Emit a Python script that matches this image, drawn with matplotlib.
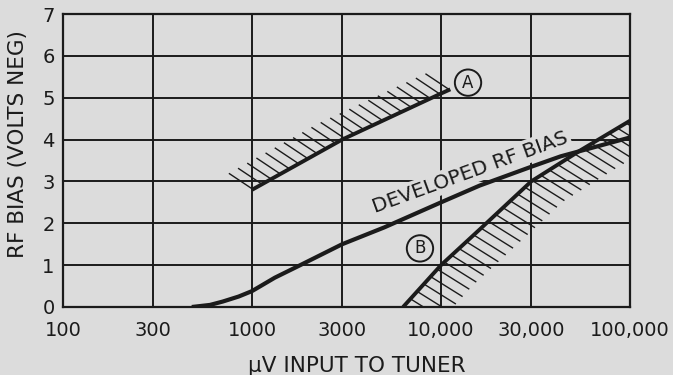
import numpy as np
import matplotlib
matplotlib.use("Agg")
import matplotlib.pyplot as plt
from matplotlib.collections import LineCollection

# Axis ticks
x_ticks = [100, 300, 1000, 3000, 10000, 30000, 100000]
x_tick_labels = ["100", "300", "1000", "3000", "10,000", "30,000", "100,000"]
y_ticks = [0, 1, 2, 3, 4, 5, 6, 7]

# Developed RF bias (volts neg) vs microvolt input
dev_uv = [480, 600, 700, 850, 1000, 1320, 1800, 3000, 5000, 10000, 16000, 30000, 43000, 100000]
dev_bias = [0.0, 0.05, 0.13, 0.25, 0.38, 0.70, 1.0, 1.5, 1.9, 2.5, 2.9, 3.35, 3.6, 4.05]

# Limit A (upper boundary)
a_uv = [1000, 3000, 10000, 11200]
a_bias = [2.8, 4.0, 5.1, 5.2]

# Limit B (lower boundary)
b_uv = [6300, 10000, 16000, 30000, 55000, 100000]
b_bias = [0.0, 1.0, 1.85, 3.0, 3.75, 4.45]

INK = "#1b1b1b"
PAPER = "#dcdcdc"

W, H = 673, 375
fig = plt.figure(figsize=(W / 100, H / 100), dpi=100, facecolor=PAPER)
ax = fig.add_axes([63 / W, 1 - 307 / H, (630 - 63) / W, (307 - 14) / H])
ax.set_facecolor(PAPER)
ax.set_xscale("log")
ax.set_xlim(100, 100000)
ax.set_ylim(0, 7)

ax.set_xticks(x_ticks)
ax.set_xticklabels(x_tick_labels)
ax.xaxis.set_minor_locator(matplotlib.ticker.NullLocator())
ax.set_yticks(y_ticks)
ax.set_yticklabels([str(v) for v in y_ticks])
ax.tick_params(axis="both", length=0, labelsize=14, colors=INK)
ax.tick_params(axis="x", pad=10)
ax.tick_params(axis="y", pad=6)

ax.grid(True, color=INK, linewidth=1.4)
ax.set_axisbelow(True)
for sp in ax.spines.values():
    sp.set_color(INK)
    sp.set_linewidth(1.6)


def hatch_strokes(xs, ys, step, dx, dy):
    """Short parallel strokes along a curve, offset by (dx, dy) pixels."""
    disp = ax.transData.transform(np.column_stack([xs, ys]))
    seg = np.hypot(*np.diff(disp, axis=0).T)
    s = np.concatenate([[0], np.cumsum(seg)])
    t = np.arange(1.0, s[-1], step)
    px = np.interp(t, s, disp[:, 0])
    py = np.interp(t, s, disp[:, 1])
    starts = np.column_stack([px, py])
    ends = starts + np.array([dx, dy])
    inv = ax.transData.inverted()
    segs = [[inv.transform(a), inv.transform(b)] for a, b in zip(starts, ends)]
    ax.add_collection(LineCollection(segs, colors=INK, linewidths=1.0, zorder=2),
                      autolim=False)


hatch_strokes(a_uv, a_bias, 10.5, -24, 16)
hatch_strokes(b_uv, b_bias, 10.0, 32, -20)

# Label sits on a paper-coloured patch that breaks the grid behind it
ax.text(14300, 3.22, "DEVELOPED RF BIAS", rotation=20, rotation_mode="anchor",
        ha="center", va="center", fontsize=14.5, color=INK, zorder=3,
        bbox=dict(boxstyle="square,pad=0.12", facecolor=PAPER, edgecolor="none"))

ax.plot(a_uv, a_bias, color=INK, lw=2.8, zorder=4, solid_capstyle="butt")
ax.plot(b_uv, b_bias, color=INK, lw=2.8, zorder=4, solid_capstyle="butt")
ax.plot(dev_uv, dev_bias, color=INK, lw=3.0, zorder=4, solid_capstyle="butt")

for lbl, xv, yv in [("A", 13900, 5.36), ("B", 7740, 1.40)]:
    ax.text(xv, yv, lbl, ha="center", va="center", fontsize=12, color=INK, zorder=5,
            bbox=dict(boxstyle="circle,pad=0.25", facecolor="none", edgecolor=INK,
                      linewidth=1.4))

fig.text(18 / W, 1 - 144 / H, "RF BIAS (VOLTS NEG)", rotation=90, ha="center",
         va="center", fontsize=15.5, color=INK)
fig.text(357 / W, 1 - 366 / H, "μV INPUT TO TUNER", ha="center", va="center",
         fontsize=15.5, color=INK)

fig.savefig("out.png", dpi=100, facecolor=PAPER)
